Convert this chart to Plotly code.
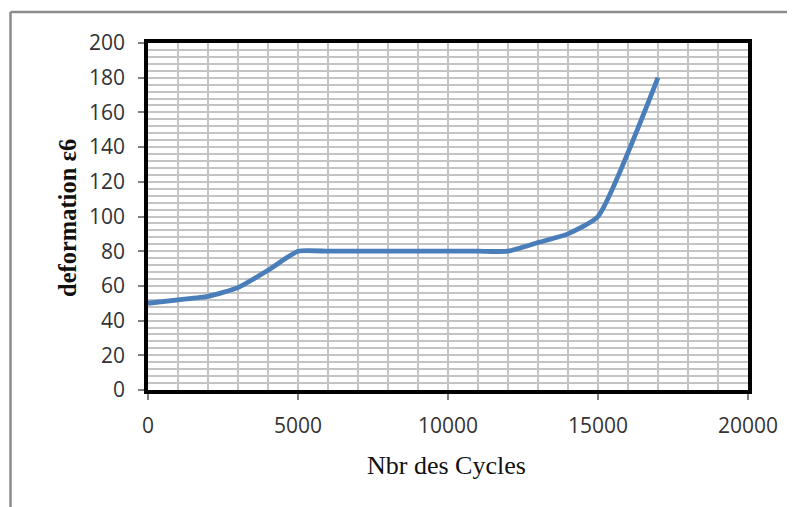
import plotly.graph_objects as go

cycles = [0, 1000, 2000, 3000, 4000, 5000, 6000, 7000, 8000, 9000, 10000,
          11000, 12000, 13000, 14000, 15000, 17000]
deformation = [50, 52, 54, 59, 69, 80, 80, 80, 80, 80, 80,
               80, 80, 85, 90, 100, 180]
x_ticks = [0, 5000, 10000, 15000, 20000]
y_ticks = [0, 20, 40, 60, 80, 100, 120, 140, 160, 180, 200]

OFF = 8  # page body margin
L, R, T, B = 148 - OFF, 748 - OFF, 43 - OFF, 390 - OFF
W, H = 795 - OFF, 507 - OFF

def px(x):
    return (x - OFF - L) / (R - L)

def py(y):
    return (B - (y - OFF)) / (B - T)

fig = go.Figure()
fig.add_trace(go.Scatter(
    x=cycles, y=deformation, mode="lines",
    line=dict(color="#4a7ebb", width=4.8, shape="spline", smoothing=0.5),
    showlegend=False, hoverinfo="skip"))

tickfont = dict(family="Open Sans", size=21, color="#333333")
grid_col = "#c4c4c4"

fig.update_xaxes(
    range=[0, 20000], tickvals=x_ticks, ticktext=[str(v) for v in x_ticks],
    showline=True, linecolor="black", linewidth=3.5, mirror=True,
    ticks="outside", ticklen=6, tickcolor="#808080", tickwidth=1.5,
    showgrid=True, gridcolor=grid_col, gridwidth=1.5,
    minor=dict(dtick=1000, showgrid=True, gridcolor=grid_col, gridwidth=1.5),
    tickfont=tickfont, ticklabelstandoff=8, zeroline=False)
fig.update_yaxes(
    range=[0, 200], tickvals=y_ticks, ticktext=[str(v) for v in y_ticks],
    showline=True, linecolor="black", linewidth=3.5, mirror=True,
    ticks="outside", ticklen=6, tickcolor="#808080", tickwidth=1.5,
    showgrid=True, gridcolor=grid_col, gridwidth=1.5,
    minor=dict(dtick=4, showgrid=True, gridcolor=grid_col, gridwidth=1.5),
    tickfont=tickfont, ticklabelstandoff=9, zeroline=False)

# outer frame (gray) like the original picture border
fig.add_shape(type="line", xref="paper", yref="paper",
              x0=px(10.5), y0=py(12), x1=px(10.5), y1=py(520),
              line=dict(color="#8c8c8c", width=2.5))
fig.add_shape(type="line", xref="paper", yref="paper",
              x0=px(10.5), y0=py(12), x1=px(800), y1=py(12),
              line=dict(color="#8c8c8c", width=2.5))

fig.add_annotation(text="Nbr des Cycles", xref="paper", yref="paper",
                   x=px(446), y=py(465), showarrow=False,
                   font=dict(family="Liberation Serif", size=26, color="#111111"),
                   xanchor="center", yanchor="middle")
fig.add_annotation(text="<b>deformation ε6</b>", xref="paper", yref="paper",
                   x=px(67), y=py(218), showarrow=False, textangle=-90,
                   font=dict(family="Liberation Serif", size=24.5, color="#111111"),
                   xanchor="center", yanchor="middle")

fig.update_layout(
    width=W, height=H,
    margin=dict(l=L, r=W - R, t=T, b=H - B),
    paper_bgcolor="white", plot_bgcolor="white")

fig.write_html("out.html")
